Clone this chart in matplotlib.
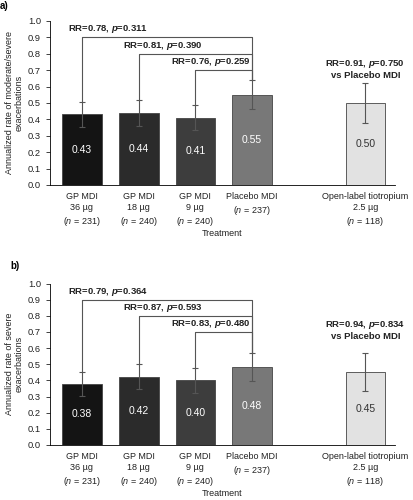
import matplotlib.pyplot as plt
import numpy as np

plt.rcParams['font.family'] = ['Liberation Sans', 'DejaVu Sans']
plt.rcParams['mathtext.fontset'] = 'custom'
plt.rcParams['mathtext.rm'] = 'Liberation Sans'
plt.rcParams['mathtext.it'] = 'Liberation Sans:italic'
plt.rcParams['mathtext.bfit'] = 'Liberation Sans:italic:bold'

# Data
treatments = ['GP MDI\n36 µg\n($\\mathit{n}$ = 231)',
              'GP MDI\n18 µg\n($\\mathit{n}$ = 240)',
              'GP MDI\n9 µg\n($\\mathit{n}$ = 240)',
              'Placebo MDI\n($\\mathit{n}$ = 237)',
              'Open-label tiotropium\n2.5 µg\n($\\mathit{n}$ = 118)']
positions = [0, 1, 2, 3, 5]
bar_colors = ['#141414', '#2b2b2b', '#3d3d3d', '#787878', '#e2e2e2']
text_colors = ['white', 'white', 'white', 'white', '#333333']

# a) moderate/severe
rate_a = [0.43, 0.44, 0.41, 0.55, 0.50]
lo_a = [0.355, 0.36, 0.335, 0.465, 0.38]
hi_a = [0.505, 0.52, 0.49, 0.64, 0.62]
rr_a = ['0.78', '0.81', '0.76']
p_a = ['0.311', '0.390', '0.259']
tio_a = ('0.91', '0.750')

# b) severe
rate_b = [0.38, 0.42, 0.40, 0.48, 0.45]
lo_b = [0.305, 0.345, 0.325, 0.395, 0.333]
hi_b = [0.455, 0.50, 0.478, 0.568, 0.568]
rr_b = ['0.79', '0.87', '0.83']
p_b = ['0.364', '0.593', '0.480']
tio_b = ('0.94', '0.834')

bracket_y = [0.9, 0.8, 0.7]
label_x = [-0.25, 0.72, 1.57]

fig = plt.figure(figsize=(4.13, 5.0), dpi=100)
ax1 = fig.add_axes([0.121, 0.630, 0.835, 0.328])
ax2 = fig.add_axes([0.121, 0.110, 0.835, 0.323])


def draw_panel(ax, rate, lo, hi, rr, pv, tio, ylabel, tag, tag_xy, tick_pad):
    rate = np.array(rate)
    err = [rate - np.array(lo), np.array(hi) - rate]
    ax.bar(positions, rate, width=0.7, color=bar_colors, edgecolor='#444444', linewidth=0.6)
    ax.errorbar(positions, rate, yerr=err, fmt='none', ecolor='#555555',
                elinewidth=0.8, capsize=2, capthick=0.8)
    for x, v, c in zip(positions, rate, text_colors):
        ax.text(x, v / 2, f'{v:.2f}', ha='center', va='center', color=c, fontsize=7.5)
    # brackets from the three GP doses to placebo
    for i in range(3):
        yb = bracket_y[i]
        ax.plot([positions[i], positions[i], positions[3], positions[3]],
                [hi[i], yb, yb, hi[3]], color='#555555', lw=0.8)
        ax.text(label_x[i], yb + 0.05, f'RR={rr[i]}, $\\mathbfit{{p}}$={pv[i]}',
                ha='left', va='center', fontsize=6.8, fontweight='bold', color='#222222')
    ax.text(positions[4], 0.71, f'RR={tio[0]}, $\\mathbfit{{p}}$={tio[1]}\nvs Placebo MDI',
            ha='center', va='center', fontsize=6.8, fontweight='bold', color='#222222',
            linespacing=1.15)
    ax.set_ylim(0, 1.0)
    ax.set_xlim(-0.565, 5.52)
    ax.set_yticks(np.arange(0, 1.01, 0.1))
    ax.set_yticklabels([f'{t:.1f}' for t in np.arange(0, 1.01, 0.1)])
    ax.set_xticks(positions)
    ax.set_xticklabels(treatments, fontsize=6.5, linespacing=1.3, color='#222222')
    ax.tick_params(axis='x', length=0, pad=tick_pad)
    ax.tick_params(axis='y', labelsize=6.7, length=3, width=0.6, colors='#222222')
    ax.spines['top'].set_visible(False)
    ax.spines['right'].set_visible(False)
    ax.spines['left'].set_linewidth(0.6)
    ax.spines['bottom'].set_linewidth(0.6)
    ax.set_xlabel('Treatment', fontsize=6.5, labelpad=1, color='#222222')
    ax.set_ylabel(ylabel, fontsize=6.5, labelpad=3, color='#222222', linespacing=1.1)
    ax.text(tag_xy[0], tag_xy[1], tag, transform=ax.transAxes, fontsize=7, fontweight='bold',
            ha='left', va='center')


draw_panel(ax1, rate_a, lo_a, hi_a, rr_a, p_a, tio_a,
           'Annualized rate of moderate/severe\nexacerbations', 'a)', (-0.145, 1.09), 5)
draw_panel(ax2, rate_b, lo_b, hi_b, rr_b, p_b, tio_b,
           'Annualized rate of severe\nexacerbations', 'b)', (-0.116, 1.108), 5)

fig.savefig('out.png', dpi=100)
